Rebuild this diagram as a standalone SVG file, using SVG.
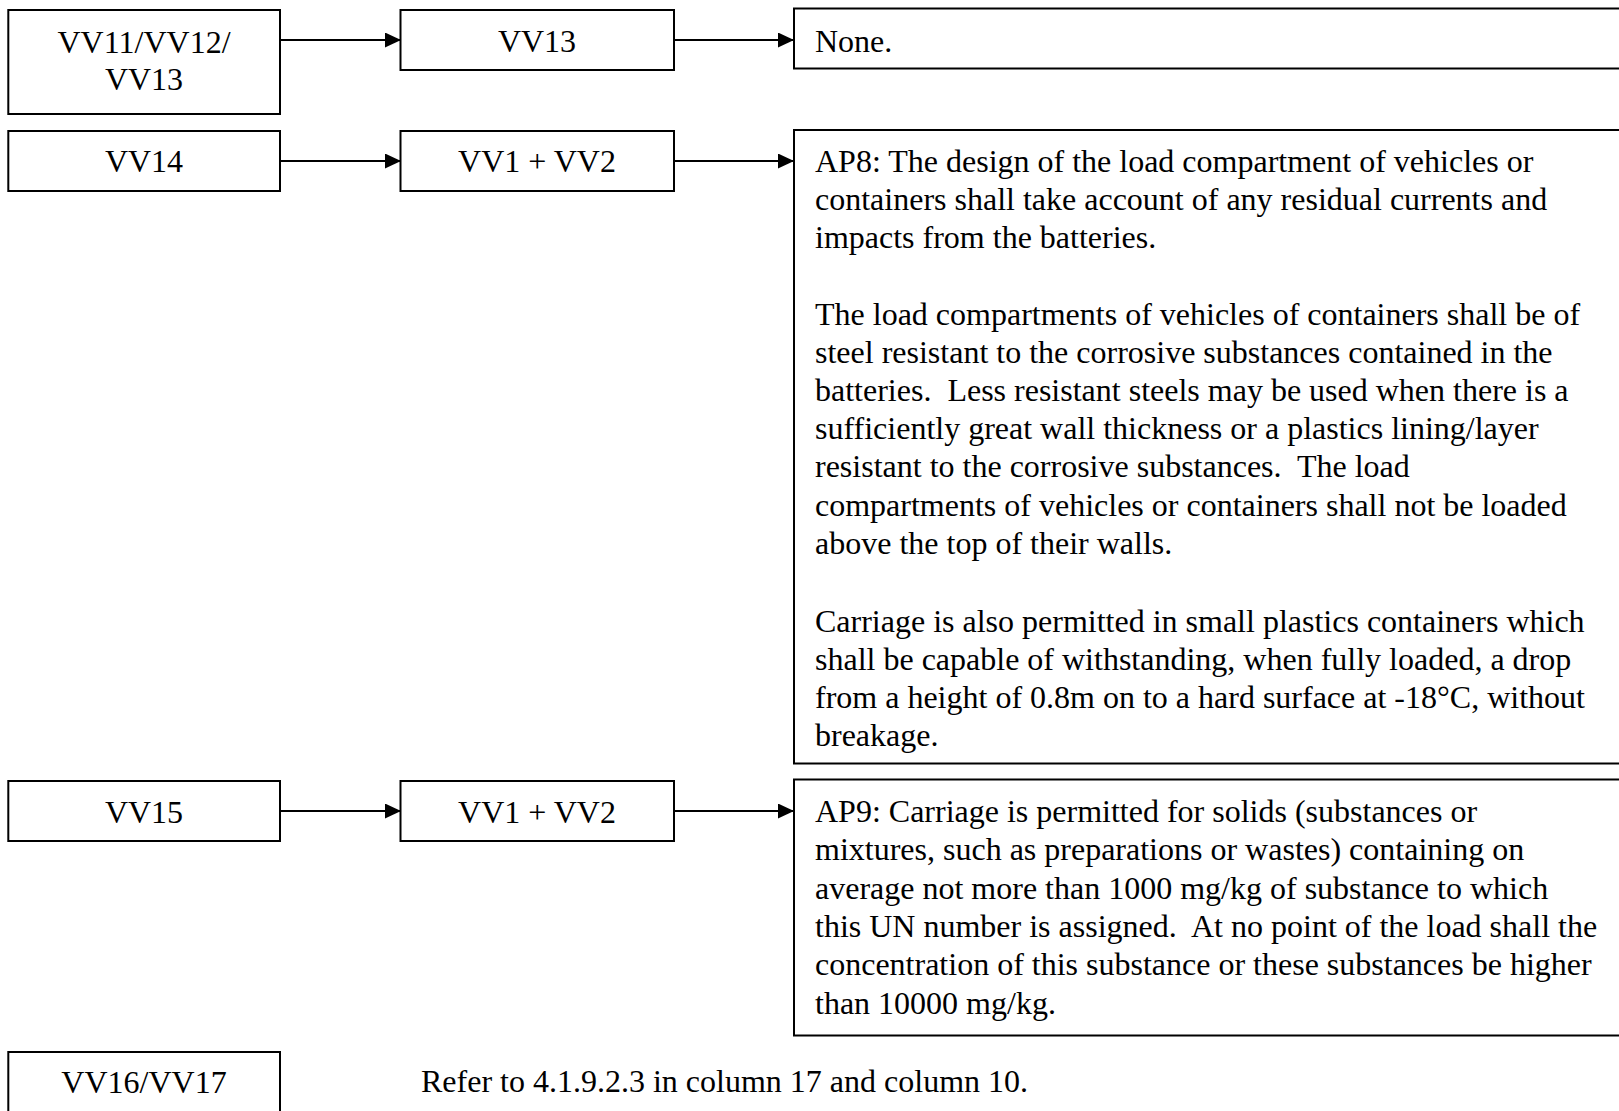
<svg xmlns="http://www.w3.org/2000/svg" width="1619" height="1111" viewBox="0 0 1619 1111">
<style>
  .box { fill: #ffffff; stroke: #000000; stroke-width: 2; }
  .t { font-family: "Liberation Serif", "Times New Roman", serif; font-size: 32px; fill: #000000; white-space: pre; }
  .c { text-anchor: middle; }
  .conn { stroke: #000000; stroke-width: 2; fill: none; marker-end: url(#arrow); }
</style>
<defs>
  <marker id="arrow" markerUnits="userSpaceOnUse" markerWidth="18" markerHeight="16" refX="16" refY="7.5" orient="auto">
    <path d="M0,0 L16,7.5 L0,15 Z" fill="#000000"/>
  </marker>
</defs>
<rect x="0" y="0" width="1619" height="1111" fill="#ffffff"/>

<g id="connectors">
  <line class="conn" x1="281" y1="40" x2="401" y2="40"/>
  <line class="conn" x1="674" y1="40" x2="794" y2="40"/>
  <line class="conn" x1="281" y1="161" x2="401" y2="161"/>
  <line class="conn" x1="674" y1="161" x2="794" y2="161"/>
  <line class="conn" x1="281" y1="811" x2="401" y2="811"/>
  <line class="conn" x1="674" y1="811" x2="794" y2="811"/>
</g>

<g id="n-vv11">
  <rect class="box" x="8.3" y="10" width="271.7" height="104"/>
  <text class="t c" x="144" y="53">VV11/VV12/</text>
  <text class="t c" x="144" y="90">VV13</text>
</g>
<g id="n-vv13">
  <rect class="box" x="400.5" y="10" width="273.5" height="60"/>
  <text class="t c" x="537" y="52">VV13</text>
</g>
<g id="n-none">
  <rect class="box" x="794" y="8.5" width="840" height="60"/>
  <text class="t" x="815" y="52">None.</text>
</g>

<g id="n-vv14">
  <rect class="box" x="8.3" y="131" width="271.7" height="60"/>
  <text class="t c" x="144" y="172">VV14</text>
</g>
<g id="n-vv12a">
  <rect class="box" x="400.5" y="131" width="273.5" height="60"/>
  <text class="t c" x="537" y="172">VV1 + VV2</text>
</g>
<g id="n-ap8">
  <rect class="box" x="794" y="130" width="840" height="633.5"/>
  <text class="t" xml:space="preserve">
    <tspan x="815" y="172">AP8: The design of the load compartment of vehicles or</tspan>
    <tspan x="815" y="210">containers shall take account of any residual currents and</tspan>
    <tspan x="815" y="248">impacts from the batteries.</tspan>
    <tspan x="815" y="325">The load compartments of vehicles of containers shall be of</tspan>
    <tspan x="815" y="363">steel resistant to the corrosive substances contained in the</tspan>
    <tspan x="815" y="401">batteries.  Less resistant steels may be used when there is a</tspan>
    <tspan x="815" y="439">sufficiently great wall thickness or a plastics lining/layer</tspan>
    <tspan x="815" y="477">resistant to the corrosive substances.  The load</tspan>
    <tspan x="815" y="516">compartments of vehicles or containers shall not be loaded</tspan>
    <tspan x="815" y="554">above the top of their walls.</tspan>
    <tspan x="815" y="632">Carriage is also permitted in small plastics containers which</tspan>
    <tspan x="815" y="670">shall be capable of withstanding, when fully loaded, a drop</tspan>
    <tspan x="815" y="708">from a height of 0.8m on to a hard surface at -18°C, without</tspan>
    <tspan x="815" y="746">breakage.</tspan>
  </text>
</g>

<g id="n-vv15">
  <rect class="box" x="8.3" y="781" width="271.7" height="60"/>
  <text class="t c" x="144" y="823">VV15</text>
</g>
<g id="n-vv12b">
  <rect class="box" x="400.5" y="781" width="273.5" height="60"/>
  <text class="t c" x="537" y="823">VV1 + VV2</text>
</g>
<g id="n-ap9">
  <rect class="box" x="794" y="779.5" width="840" height="256"/>
  <text class="t" xml:space="preserve">
    <tspan x="815" y="822">AP9: Carriage is permitted for solids (substances or</tspan>
    <tspan x="815" y="860">mixtures, such as preparations or wastes) containing on</tspan>
    <tspan x="815" y="899">average not more than 1000 mg/kg of substance to which</tspan>
    <tspan x="815" y="937">this UN number is assigned.  At no point of the load shall the</tspan>
    <tspan x="815" y="975">concentration of this substance or these substances be higher</tspan>
    <tspan x="815" y="1014">than 10000 mg/kg.</tspan>
  </text>
</g>

<g id="n-vv16">
  <rect class="box" x="8.3" y="1052" width="271.7" height="80"/>
  <text class="t c" x="144" y="1093">VV16/VV17</text>
</g>
<g id="n-refer">
  <text class="t" x="421" y="1092">Refer to 4.1.9.2.3 in column 17 and column 10.</text>
</g>
</svg>
